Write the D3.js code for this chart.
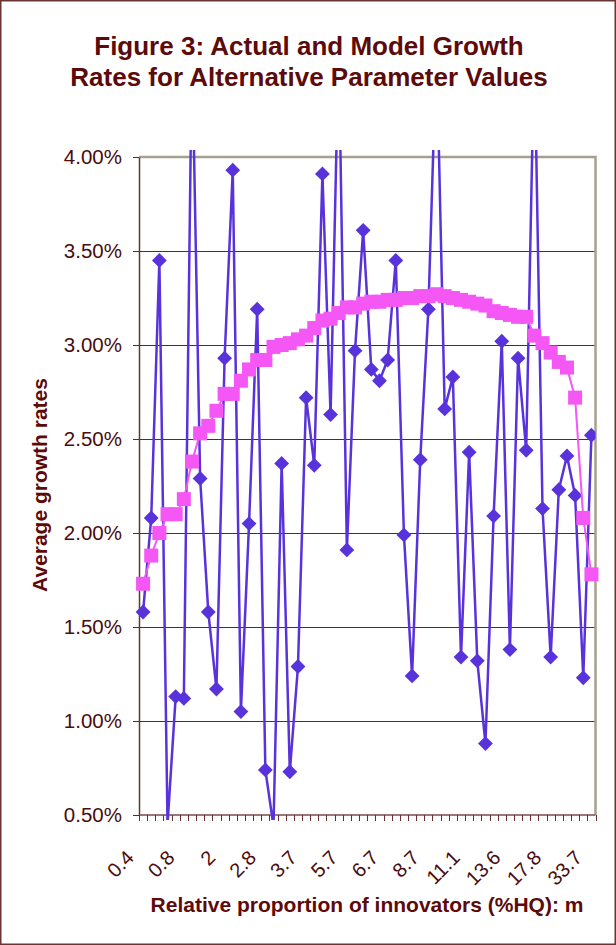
<!DOCTYPE html>
<html>
<head>
<meta charset="utf-8">
<script src="https://cdn.jsdelivr.net/npm/d3@7"></script>
<style>
  body { margin: 0; background: #fff; }
  svg { display: block; font-family: Arial, "Liberation Sans", sans-serif; }
</style>
</head>
<body>
<svg id="chart" width="616" height="945"></svg>
<script>
// labels shown on every 5th category
var tickLabels = ["0.4", "0.8", "2", "2.8", "3.7", "5.7", "6.7", "8.7", "11.1", "13.6", "17.8", "33.7"];
var labelEvery = 5;

// actual growth rates (%), 56 categories
var actual = [1.58, 2.08, 3.45, 0.45, 1.13, 1.12, 4.60, 2.29, 1.58, 1.17,
              2.93, 3.93, 1.05, 2.05, 3.19, 0.74, 0.44, 2.37, 0.73, 1.29,
              2.72, 2.36, 3.91, 2.63, 4.60, 1.91, 2.97, 3.61, 2.87, 2.81,
              2.92, 3.45, 1.99, 1.24, 2.39, 3.19, 4.60, 2.66, 2.83, 1.34,
              2.43, 1.32, 0.88, 2.09, 3.02, 1.38, 2.93, 2.44, 4.60, 2.13,
              1.34, 2.23, 2.41, 2.20, 1.23, 2.52];

// model growth rates (%)
var model = [1.73, 1.88, 2.00, 2.10, 2.10, 2.18, 2.38, 2.53, 2.57, 2.65,
             2.74, 2.74, 2.81, 2.87, 2.92, 2.92, 2.99, 3.00, 3.01, 3.03,
             3.05, 3.09, 3.13, 3.14, 3.17, 3.20, 3.20, 3.22, 3.23, 3.23,
             3.24, 3.24, 3.25, 3.25, 3.26, 3.26, 3.27, 3.26, 3.25, 3.24,
             3.23, 3.22, 3.21, 3.18, 3.17, 3.16, 3.15, 3.15, 3.05, 3.01,
             2.96, 2.91, 2.88, 2.72, 2.08, 1.78];

var yTicks = [0.5, 1.0, 1.5, 2.0, 2.5, 3.0, 3.5, 4.0];

var maroon = "#5c0a0a",
    tickText = "#4a0c0c",
    blue = "#5833dc",
    pink = "#f457f4";

var plotLeft = 139, plotRight = 595.5, plotTop = 157, plotBottom = 815;

var svg = d3.select("#chart");

// outer frame
svg.append("rect")
  .attr("x", 0.75).attr("y", 0.75)
  .attr("width", 614.5).attr("height", 943.5)
  .attr("fill", "none")
  .attr("stroke", "#6b3434")
  .attr("stroke-width", 1.5);

// title
var title = svg.append("text")
  .attr("text-anchor", "middle")
  .attr("fill", maroon)
  .style("font-weight", "bold")
  .style("font-size", "26px");
title.append("tspan").attr("x", 309).attr("y", 55).text("Figure 3: Actual and Model Growth");
title.append("tspan").attr("x", 309).attr("y", 86).text("Rates for Alternative Parameter Values");

var x = d3.scaleBand()
  .domain(d3.range(actual.length))
  .range([plotLeft, plotRight]);
var bw = x.bandwidth();
function cx(i) { return x(i) + bw / 2; }

var y = d3.scaleLinear()
  .domain([0.5, 4.0])
  .range([plotBottom, plotTop]);

// gridlines
svg.append("g")
  .selectAll("line")
  .data(yTicks.slice(1, -1))
  .enter()
  .append("line")
  .attr("x1", plotLeft).attr("x2", plotRight)
  .attr("y1", function(d) { return Math.round(y(d)) + 0.5; })
  .attr("y2", function(d) { return Math.round(y(d)) + 0.5; })
  .attr("stroke", "#5e2626")
  .attr("stroke-width", 1);

// plot border top / right
svg.append("path")
  .attr("d", "M" + plotLeft + "," + plotTop + "H" + plotRight + "V" + plotBottom)
  .attr("fill", "none")
  .attr("stroke", "#a8a08e")
  .attr("stroke-width", 2.5);

// y axis
var yAxis = svg.append("g")
  .attr("transform", "translate(" + plotLeft + ",0)")
  .call(d3.axisLeft(y)
    .tickValues(yTicks)
    .tickFormat(function(d) { return d.toFixed(2) + "%"; })
    .tickSize(6)
    .tickSizeOuter(0)
    .tickPadding(11));
yAxis.select(".domain").attr("stroke", "#5a3a32").attr("stroke-width", 1.5);
yAxis.selectAll(".tick line").attr("stroke", "#5a2a2a");
yAxis.selectAll("text")
  .attr("fill", tickText)
  .style("font-size", "20.5px")
  .style("font-family", "Arial, 'Liberation Sans', sans-serif");

// x axis line and boundary ticks
var xAxis = svg.append("g");
xAxis.append("line")
  .attr("x1", plotLeft).attr("x2", plotRight)
  .attr("y1", plotBottom).attr("y2", plotBottom)
  .attr("stroke", "#7a4a4a")
  .attr("stroke-width", 1.5);
xAxis.selectAll(".xt")
  .data(d3.range(actual.length + 1))
  .enter()
  .append("line")
  .attr("class", "xt")
  .attr("x1", function(i) { return Math.round(plotLeft + i * bw) + 0.5; })
  .attr("x2", function(i) { return Math.round(plotLeft + i * bw) + 0.5; })
  .attr("y1", plotBottom).attr("y2", plotBottom + 6)
  .attr("stroke", "#6a3030");

xAxis.selectAll(".xl")
  .data(tickLabels)
  .enter()
  .append("text")
  .attr("class", "xl")
  .attr("text-anchor", "end")
  .attr("fill", tickText)
  .style("font-size", "20px")
  .attr("transform", function(d, k) {
    return "translate(" + (cx(k * labelEvery) - 8) + "," + 859 + ") rotate(-45)";
  })
  .text(function(d) { return d; });

// axis titles
svg.append("text")
  .attr("x", 367).attr("y", 912)
  .attr("text-anchor", "middle")
  .attr("fill", maroon)
  .style("font-weight", "bold")
  .style("font-size", "21px")
  .text("Relative proportion of innovators (%HQ): m");

svg.append("text")
  .attr("transform", "translate(47,485) rotate(-90)")
  .attr("text-anchor", "middle")
  .attr("fill", maroon)
  .style("font-weight", "bold")
  .style("font-size", "21px")
  .text("Average growth rates");

// clips: lines may run a little past the plot frame, markers may not
svg.append("clipPath").attr("id", "clipLine")
  .append("rect")
  .attr("x", plotLeft).attr("y", 150)
  .attr("width", plotRight - plotLeft).attr("height", 670);
svg.append("clipPath").attr("id", "clipMark")
  .append("rect")
  .attr("x", plotLeft - 8).attr("y", plotTop)
  .attr("width", plotRight - plotLeft + 8).attr("height", plotBottom - plotTop);

var line = d3.line()
  .x(function(d, i) { return cx(i); })
  .y(function(d) { return y(d); });

// actual series: line + diamonds
svg.append("path")
  .datum(actual)
  .attr("clip-path", "url(#clipLine)")
  .attr("d", line)
  .attr("fill", "none")
  .attr("stroke", blue)
  .attr("stroke-width", 2.5);

svg.append("g")
  .attr("clip-path", "url(#clipMark)")
  .selectAll(".dia")
  .data(actual)
  .enter()
  .append("path")
  .attr("class", "dia")
  .attr("d", d3.symbol().type(d3.symbolSquare).size(110))
  .attr("transform", function(d, i) { return "translate(" + cx(i) + "," + y(d) + ") rotate(45)"; })
  .attr("fill", blue);

// model series: line + squares
svg.append("path")
  .datum(model)
  .attr("d", line)
  .attr("fill", "none")
  .attr("stroke", pink)
  .attr("stroke-width", 2);

svg.append("g")
  .selectAll(".sq")
  .data(model)
  .enter()
  .append("rect")
  .attr("class", "sq")
  .attr("x", function(d, i) { return cx(i) - 7; })
  .attr("y", function(d) { return y(d) - 7; })
  .attr("width", 14).attr("height", 14)
  .attr("fill", pink);
</script>
</body>
</html>
